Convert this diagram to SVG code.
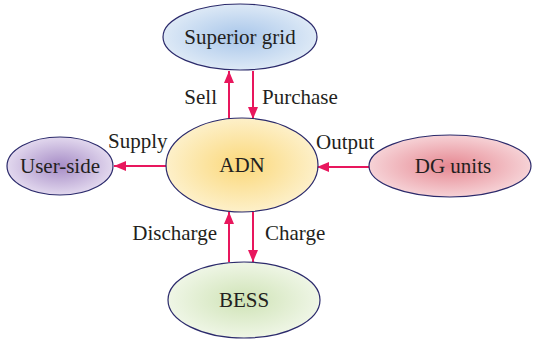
<svg xmlns="http://www.w3.org/2000/svg" width="533" height="340" viewBox="0 0 533 340">
<defs>
<radialGradient id="gBlue"><stop offset="0" stop-color="#a8c6ea"/><stop offset="1" stop-color="#dde9f6"/></radialGradient>
<radialGradient id="gYellow"><stop offset="0" stop-color="#fbd87a"/><stop offset="1" stop-color="#fdf0c9"/></radialGradient>
<radialGradient id="gPurple"><stop offset="0" stop-color="#a68cc6"/><stop offset="1" stop-color="#e2d8ee"/></radialGradient>
<radialGradient id="gRed"><stop offset="0" stop-color="#e68892"/><stop offset="1" stop-color="#f6d2d6"/></radialGradient>
<radialGradient id="gGreen"><stop offset="0" stop-color="#cfe3b6"/><stop offset="1" stop-color="#eff6e6"/></radialGradient>
<marker id="arr" viewBox="0 0 12 10" refX="12" refY="5" markerWidth="12" markerHeight="10" markerUnits="userSpaceOnUse" orient="auto">
<path d="M0,0 L12,5 L0,10 z" fill="#e8175d"/>
</marker>
</defs>
<style>
.node{stroke:#2b2a6b;stroke-width:1.2}
.lbl{font-family:"Liberation Serif","Times New Roman",serif;font-size:21px;fill:#231f20}
.c{text-anchor:middle}
.e{stroke:#e8175d;stroke-width:2;fill:none;marker-end:url(#arr)}
</style>
<g id="connectors">
<line class="e" x1="229" y1="119" x2="229" y2="71"/>
<line class="e" x1="253" y1="71" x2="253" y2="119"/>
<line class="e" x1="166" y1="166" x2="114" y2="166"/>
<line class="e" x1="369" y1="167" x2="317" y2="167"/>
<line class="e" x1="229" y1="262" x2="229" y2="212"/>
<line class="e" x1="253" y1="212" x2="253" y2="262"/>
<text class="lbl" x="217" y="104" text-anchor="end">Sell</text>
<text class="lbl" x="262" y="104">Purchase</text>
<text class="lbl" x="108" y="148">Supply</text>
<text class="lbl" x="316" y="149">Output</text>
<text class="lbl" x="217" y="240" text-anchor="end">Discharge</text>
<text class="lbl" x="265" y="240">Charge</text>
</g>
<g id="superior-grid">
<ellipse class="node" cx="240" cy="37" rx="77" ry="33" fill="url(#gBlue)"/>
<text class="lbl c" x="240" y="44">Superior grid</text>
</g>
<g id="adn">
<ellipse class="node" cx="242" cy="165" rx="76" ry="47" fill="url(#gYellow)"/>
<text class="lbl c" x="242" y="172">ADN</text>
</g>
<g id="user-side">
<ellipse class="node" cx="60" cy="166" rx="53" ry="29" fill="url(#gPurple)"/>
<text class="lbl c" x="60" y="173">User-side</text>
</g>
<g id="dg-units">
<ellipse class="node" cx="450" cy="166" rx="81" ry="31" fill="url(#gRed)"/>
<text class="lbl c" x="453" y="173">DG units</text>
</g>
<g id="bess">
<ellipse class="node" cx="244" cy="300" rx="76" ry="38" fill="url(#gGreen)"/>
<text class="lbl c" x="244" y="307">BESS</text>
</g>
</svg>
